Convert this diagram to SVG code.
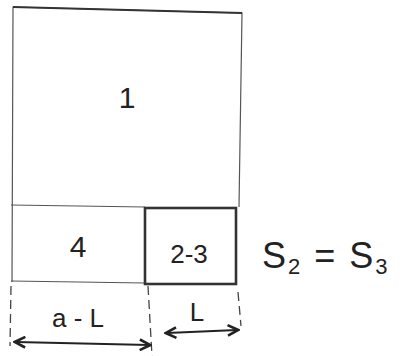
<svg xmlns="http://www.w3.org/2000/svg" width="400" height="356" viewBox="0 0 400 356">
<style>
.thin{fill:none;stroke:#555;stroke-width:1.2}
.thick{fill:none;stroke:#333;stroke-width:2.6}
.dash{fill:none;stroke:#444;stroke-width:1.3;stroke-dasharray:9 5}
.arr{fill:none;stroke:#222;stroke-width:2.2}
.lbl{font-family:"Liberation Sans",Arial,sans-serif;fill:#222;text-anchor:middle}
</style>
<defs>
<marker id="ah" viewBox="0 0 10 10" refX="8" refY="5" markerWidth="6" markerHeight="6" orient="auto-start-reverse">
<path d="M1,1 L9,5 L1,9" fill="none" stroke="#222" stroke-width="2"/>
</marker>
</defs>
<rect width="400" height="356" fill="#fff"/>
<g id="region1">
<path class="thin" d="M12,282 L13,7 L242,13 L239,207"/>
<path d="M13,7 L242,13" stroke="#333" stroke-width="1.8" fill="none"/>
<text class="lbl" x="127" y="108" font-size="30">1</text>
</g>
<g id="region4">
<path class="thin" d="M11,205 L145,207 M11,281 L145,283"/>
<text class="lbl" x="78" y="257" font-size="30">4</text>
</g>
<g id="region23">
<rect class="thick" x="145" y="208" width="91" height="76"/>
<text class="lbl" x="189" y="263" font-size="26">2-3</text>
</g>
<g id="equation">
<text x="262" y="268" font-family="Liberation Sans,Arial,sans-serif" font-size="36" fill="#222" letter-spacing="2">S<tspan font-size="22" dy="6">2</tspan><tspan dy="-6"> = S</tspan><tspan font-size="22" dy="6">3</tspan></text>
</g>
<g id="dimensions">
<path class="dash" d="M11,286 L10,346"/>
<path class="dash" d="M148,286 L152,356"/>
<path class="dash" d="M238,292 L241,326"/>
<text class="lbl" x="78" y="327" font-size="26">a - L</text>
<text class="lbl" x="197" y="321" font-size="26">L</text>
</g>
<g id="connectors">
<path class="arr" d="M16,342 L149,345" marker-start="url(#ah)" marker-end="url(#ah)"/>
<path class="arr" d="M167,333 L237,330" marker-start="url(#ah)" marker-end="url(#ah)"/>
</g>
</svg>
